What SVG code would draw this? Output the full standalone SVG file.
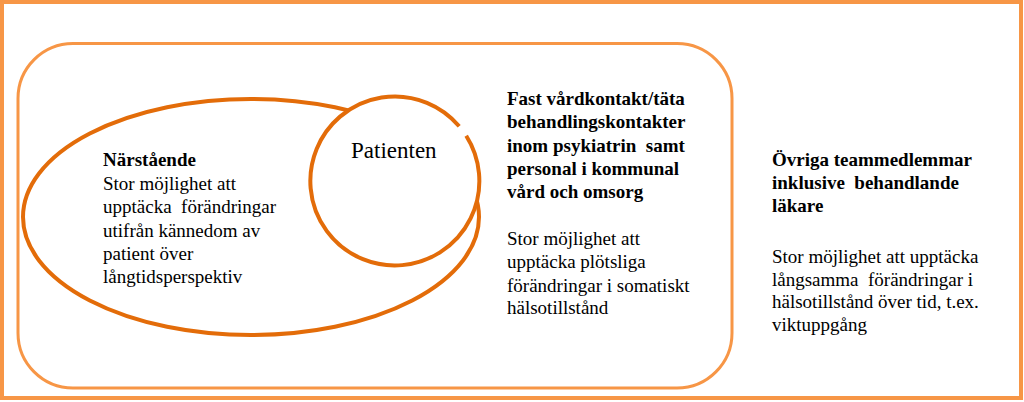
<svg xmlns="http://www.w3.org/2000/svg" width="1024" height="402" viewBox="0 0 1024 402" font-family="'Liberation Serif', 'Times New Roman', serif" font-size="19">
<style>
.frame{fill:none;stroke:#F79646;stroke-width:4}
.box{fill:none;stroke:#F79646;stroke-width:3}
.shape{stroke:#E36C09;stroke-width:4}
.b{font-weight:bold}
</style>
<rect width="1024" height="402" fill="#fff"/>
<rect class="frame" x="2" y="2" width="1019" height="396"/>
<g id="team">
<rect class="box" x="18" y="43.5" width="714" height="344.5" rx="55" ry="55"/>
<text class="b" x="507" y="105">Fast vårdkontakt/täta</text>
<text class="b" x="507" y="128">behandlingskontakter</text>
<text class="b" x="507" y="152" xml:space="preserve">inom psykiatrin  samt</text>
<text class="b" x="507" y="175">personal i kommunal</text>
<text class="b" x="507" y="198">vård och omsorg</text>
<text x="507" y="245">Stor möjlighet att</text>
<text x="507" y="268">upptäcka plötsliga</text>
<text x="507" y="292">förändringar i somatiskt</text>
<text x="507" y="314">hälsotillstånd</text>
</g>
<g id="narstaende">
<ellipse class="shape" cx="251" cy="217" rx="228" ry="118" fill="none"/>
<text class="b" x="103" y="166">Närstående</text>
<text x="103" y="190">Stor möjlighet att</text>
<text x="103" y="213" xml:space="preserve">upptäcka  förändringar</text>
<text x="103" y="237">utifrån kännedom av</text>
<text x="103" y="260">patient över</text>
<text x="103" y="283">långtidsperspektiv</text>
</g>
<g id="patienten">
<circle cx="394.5" cy="180.5" r="84.5" fill="#fff"/>
<path class="shape" fill="none" stroke-width="5" d="M466.2,135.7 A84.5,84.5 0 1 1 459.2,126.2"/>
<text font-size="23" x="351" y="158">Patienten</text>
</g>
<g id="ovriga">
<text class="b" x="772" y="166">Övriga teammedlemmar</text>
<text class="b" x="772" y="189" xml:space="preserve">inklusive  behandlande</text>
<text class="b" x="772" y="212">läkare</text>
<text x="772" y="263">Stor möjlighet att upptäcka</text>
<text x="772" y="286" xml:space="preserve">långsamma  förändringar i</text>
<text x="772" y="308">hälsotillstånd över tid, t.ex.</text>
<text x="772" y="331">viktuppgång</text>
</g>
<g id="connectors"/>
</svg>
